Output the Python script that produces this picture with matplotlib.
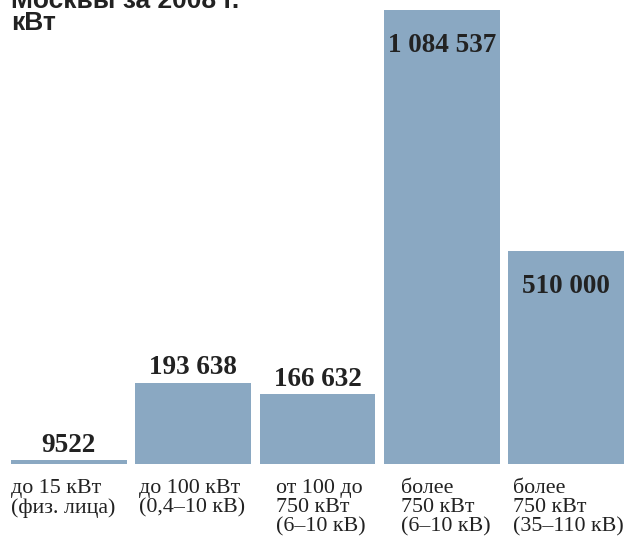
import matplotlib
matplotlib.use('Agg')
import matplotlib.pyplot as plt

categories = ['до 15 кВт\n(физ. лица)', 'до 100 кВт\n(0,4–10 кВ)', 'от 100 до\n750 кВт\n(6–10 кВ)',
              'более\n750 кВт\n(6–10 кВ)', 'более\n750 кВт\n(35–110 кВ)']
values = [9522, 193638, 166632, 1084537, 510000]
value_labels = ['9522', '193 638', '166 632', '1 084 537', '510 000']
label_inside = [False, False, False, True, True]
title_lines = ['Москвы за 2008 г.', 'кВт']

# layout: how far each category label is indented from its bar's left edge (px)
cat_indent = [0, 4, 16, 17, 5]

W, H = 626, 537
fig = plt.figure(figsize=(W / 100, H / 100), dpi=100)
ax = fig.add_axes([11 / W, 73 / H, 613 / W, 454 / H])

bw = 0.93
xs = range(len(values))
ax.bar(xs, values, width=bw, color='#8aa8c2')
ax.set_xlim(-bw / 2, len(values) - 1 + bw / 2)
ax.set_ylim(0, max(values))
ax.axis('off')

for x, v, lab, inside in zip(xs, values, value_labels, label_inside):
    dy = -36 if inside else 15
    ax.annotate(lab, (x, v), xytext=(0, dy), textcoords='offset pixels',
                ha='center', va='center', fontsize=19.5, fontweight='bold',
                family='Liberation Serif', color='#222222')

for x, cat, ind in zip(xs, categories, cat_indent):
    ax.annotate(cat, (x - bw / 2, 0), xytext=(ind, -15), textcoords='offset pixels',
                ha='left', va='top', fontsize=15.8, family='Liberation Serif',
                color='#222222', linespacing=1.02)

# title is clipped at the top edge, as in the original
for i, t in enumerate(title_lines):
    fig.text(11 / W, 1 - (8 + 22 * i) / H, t, ha='left', va='baseline',
             fontsize=19, fontweight='bold', family='Liberation Sans', color='#222222')

fig.savefig('out.png', dpi=100)
